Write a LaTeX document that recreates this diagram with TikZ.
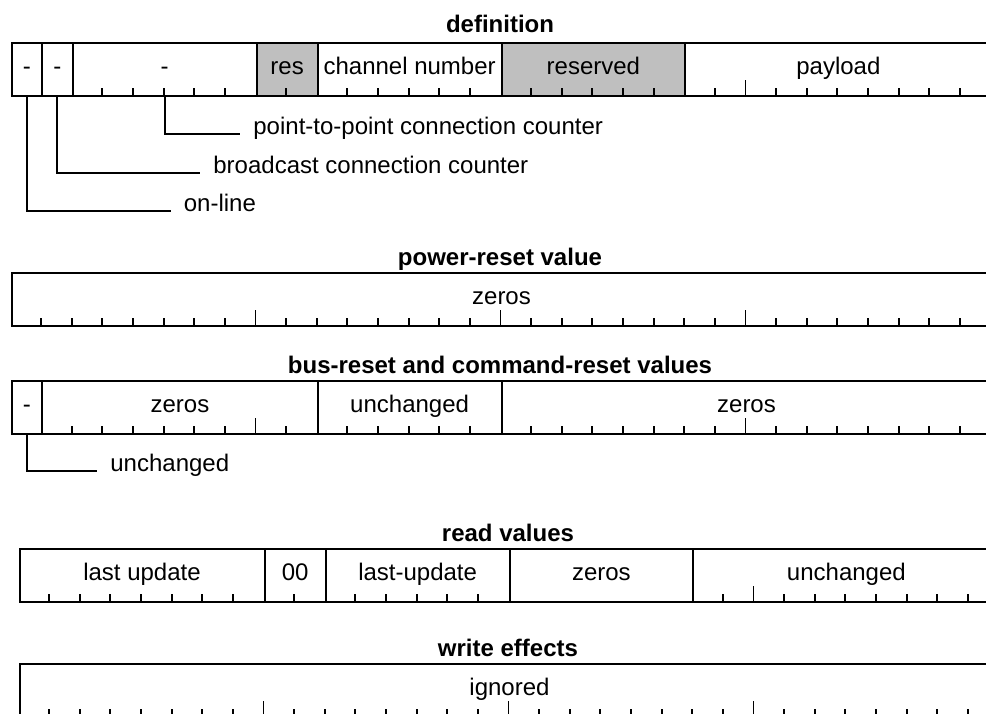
\documentclass[tikz,border=0pt]{standalone}
\usepackage{fontspec}
\setmainfont{Liberation Sans}
\tikzset{
  regfont/.style={font=\fontsize{12}{14}\selectfont},
  fld/.style={draw=black, line width=1pt, anchor=north west, inner sep=0pt,
    minimum height=26.5pt, text height=8.5pt, text depth=4pt, regfont},
  shaded/.style={fill=black!25},
  ttl/.style={anchor=base, inner sep=0pt, font=\bfseries\fontsize{12}{14}\selectfont},
  lbl/.style={anchor=base west, inner xsep=6.5pt, inner ysep=0pt, regfont},
  lead/.style={draw=black, line width=1pt},
  tk/.style={draw=black, line width=0.9pt},
}
% one bit is 30.625 units wide (15.3125pt)
% #1 name, #2 register left x, #3 register top y, #4 first bit, #5 bit count, #6 options, #7 text
\newcommand{\bitfield}[7]{%
  \node[fld, minimum width=#5*15.3125pt, #6] (#1) at ({#2+#4*30.625},#3) {#7};}
% #1 register left x, #2 register bottom y, #3 tick length, #4 bit positions
\newcommand{\bitticks}[4]{%
  \foreach \b in {#4} \draw[tk] ({#1+\b*30.625},#2) -- ++(0,-#3);}
\begin{document}
\begin{tikzpicture}[x=0.5pt, y=-0.5pt]
\useasboundingbox (0,0) rectangle (986,713);
\clip (0,0) rectangle (986,713);

% ---------------- definition ----------------
\node[ttl] (tdef) at (500,32) {definition};
\bitfield{d0}{10.5}{42}{0}{1}{}{-}
\bitfield{d1}{10.5}{42}{1}{1}{}{-}
\bitfield{d2}{10.5}{42}{2}{6}{}{-}
\bitfield{d3}{10.5}{42}{8}{2}{shaded}{res}
\bitfield{d4}{10.5}{42}{10}{6}{}{channel number}
\bitfield{d5}{10.5}{42}{16}{6}{shaded}{reserved}
\bitfield{d6}{10.5}{42}{22}{10}{}{payload}
\bitticks{10.5}{95}{7}{3,4,5,6,7,9,11,12,13,14,15,17,18,19,20,21,23,25,26,27,28,29,30,31}
\bitticks{10.5}{95}{15}{24}

\node[lbl] (lp2p) at (240,134) {point-to-point connection counter};
\node[lbl] (lbc) at (200,173) {broadcast connection counter};
\node[lbl] (lon) at (170.5,211) {on-line};
\draw[lead] (d2.south) |- (lp2p.base west);
\draw[lead] (d1.south) |- (lbc.base west);
\draw[lead] (d0.south) |- (lon.base west);

% ---------------- power-reset value ----------------
\node[ttl] (tpow) at (500,265) {power-reset value};
\bitfield{p0}{10.5}{272}{0}{32}{}{zeros}
\bitticks{10.5}{325}{7}{1,2,3,4,5,6,7,9,10,11,12,13,14,15,17,18,19,20,21,22,23,25,26,27,28,29,30,31}
\bitticks{10.5}{325}{15}{8,16,24}

% ---------------- bus-reset and command-reset values ----------------
\node[ttl] (tbus) at (500,373) {bus-reset and command-reset values};
\bitfield{b0}{10.5}{380}{0}{1}{}{-}
\bitfield{b1}{10.5}{380}{1}{9}{}{zeros}
\bitfield{b2}{10.5}{380}{10}{6}{}{unchanged}
\bitfield{b3}{10.5}{380}{16}{16}{}{zeros}
\bitticks{10.5}{433}{7}{2,3,4,5,6,7,9,11,12,13,14,15,17,18,19,20,21,22,23,25,26,27,28,29,30,31}
\bitticks{10.5}{433}{15}{8,24}

\node[lbl] (lunch) at (97,471) {unchanged};
\draw[lead] (b0.south) |- (lunch.base west);

% ---------------- read values ----------------
\node[ttl] (tread) at (508,541) {read values};
\bitfield{r0}{18.5}{548}{0}{8}{}{last update}
\bitfield{r1}{18.5}{548}{8}{2}{}{00}
\bitfield{r2}{18.5}{548}{10}{6}{}{last-update}
\bitfield{r3}{18.5}{548}{16}{6}{}{zeros}
\bitfield{r4}{18.5}{548}{22}{10}{}{unchanged}
\bitticks{18.5}{601}{7}{1,2,3,4,5,6,7,9,11,12,13,14,15,23,25,26,27,28,29,30,31}
\bitticks{18.5}{601}{15}{24}

% ---------------- write effects ----------------
\node[ttl] (twrite) at (508,656) {write effects};
\bitfield{w0}{18.5}{663}{0}{32}{}{ignored}
\bitticks{18.5}{716}{7}{1,2,3,4,5,6,7,9,10,11,12,13,14,15,17,18,19,20,21,22,23,25,26,27,28,29,30,31}
\bitticks{18.5}{716}{15}{8,16,24}
\end{tikzpicture}
\end{document}
